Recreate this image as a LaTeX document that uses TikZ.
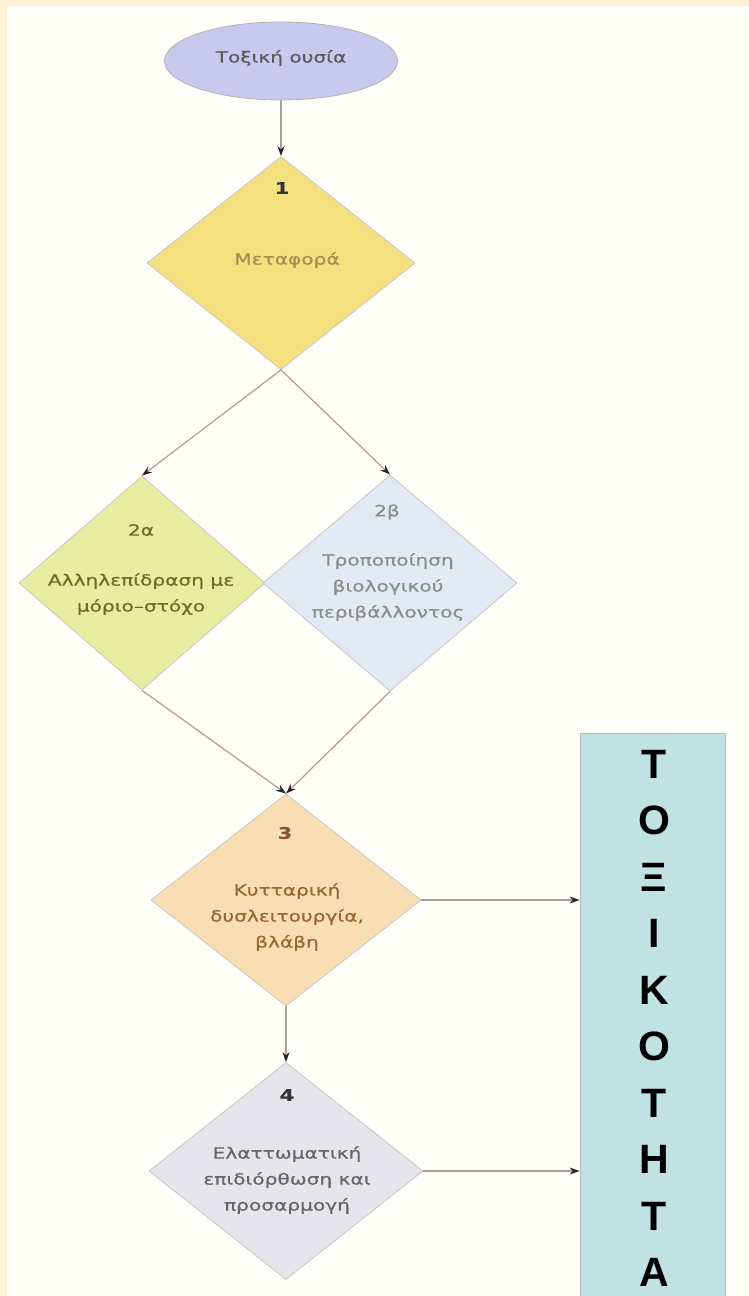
\documentclass[tikz,border=0pt]{standalone}
\usepackage{fontspec}
\setmainfont{DejaVu Sans}
\newfontfamily\gfont[FakeStretch=1.3,FakeBold=0.6]{DejaVu Sans}
\newfontfamily\bfont{Liberation Sans}
\usetikzlibrary{shapes.geometric,arrows.meta}
\definecolor{cream}{HTML}{FFF2D4}
\definecolor{paper}{HTML}{FFFEF8}
\definecolor{ellfill}{HTML}{C9C9EF}
\definecolor{yel}{HTML}{F4E07E}
\definecolor{lime}{HTML}{E7EEA2}
\definecolor{paleblue}{HTML}{E3E9F5}
\definecolor{peach}{HTML}{F8DEB2}
\definecolor{lilac}{HTML}{E7E5EC}
\definecolor{teal}{HTML}{C0E2E2}
\definecolor{linecol}{HTML}{A8A098}
\begin{document}
\begin{tikzpicture}[x=1pt,y=-1pt,
  dia/.style={diamond, inner sep=0pt, draw=gray!45, line width=0.8pt},
  txt/.style={font=\gfont\fontsize{15.5}{26}\selectfont, align=center, inner sep=0pt},
  num/.style={font=\gfont\bfseries\fontsize{16}{20}\selectfont, inner sep=0pt},
  conn/.style={draw=linecol, line width=1.2pt, -{Stealth[length=10pt,width=7pt,color=black!85]}},
  big/.style={font=\bfont\bfseries\fontsize{41}{41}\selectfont, inner sep=0pt}]
\useasboundingbox (0,0) rectangle (749,1296);
\fill[cream] (0,0) rectangle (749,1296);
\fill[paper] (7,6) rectangle (749,1296);

% nodes
\node[ellipse, fill=ellfill, draw=gray!60, line width=0.8pt, minimum width=233pt, minimum height=78pt, inner sep=0pt] (e) at (281,61) {};
\node[txt, text=black!65] (et) at (281,58) {Τοξική ουσία};

\node[dia, fill=yel, minimum width=268pt, minimum height=213pt] (d1) at (281,263) {};
\node[num, text=black!80] (n1) at (282,188) {1};
\node[txt, text=black!55!yellow!50!brown] (t1) at (287,260) {Μεταφορά};

\node[dia, fill=lime, minimum width=246pt, minimum height=214pt] (d2a) at (142,583) {};
\node[txt, text=olive!75!black] (n2a) at (141,530) {2α};
\node[txt, text=olive!75!black] (t2a) at (141,594) {Αλληλεπίδραση με\\μόριο–στόχο};

\node[dia, fill=paleblue, minimum width=254pt, minimum height=216pt] (d2b) at (390,583) {};
\node[txt, text=black!45] (n2b) at (387,512) {2β};
\node[txt, text=black!45] (t2b) at (388,587) {Τροποποίηση\\βιολογικού\\περιβάλλοντος};

\node[dia, fill=peach, minimum width=270pt, minimum height=212pt] (d3) at (286,900) {};
\node[num, text=brown!70!black] (n3) at (285,833) {3};
\node[txt, text=brown!80!black] (t3) at (287,917) {Κυτταρική\\δυσλειτουργία,\\βλάβη};

\node[dia, fill=lilac, minimum width=274pt, minimum height=217pt] (d4) at (286,1171) {};
\node[num, text=black!80] (n4) at (287,1095) {4};
\node[txt, text=black!60] (t4) at (287,1180) {Ελαττωματική\\επιδιόρθωση και\\προσαρμογή};

\node[rectangle, fill=teal, draw=gray!55, line width=0.8pt, minimum width=145pt, minimum height=565pt, inner sep=0pt] (box) at (652.5,1015.5) {};
\foreach \l [count=\i from 0] in {Τ,Ο,Ξ,Ι,Κ,Ο,Τ,Η,Τ,Α}
  \node[big] (L\i) at (654,764+\i*56.5) {\l};

% connectors
\draw[conn] (e.south) -- (d1.north);
\draw[conn] (d1.south) -- (d2a.north);
\draw[conn] (d1.south) -- (d2b.north);
\draw[conn] (d2a.south) -- (d3.north);
\draw[conn] (d2b.south) -- (d3.north);
\draw[conn] (d3.south) -- (d4.north);
\draw[conn] (d3.east) -- (d3.east -| box.west);
\draw[conn] (d4.east) -- (d4.east -| box.west);
\end{tikzpicture}
\end{document}
